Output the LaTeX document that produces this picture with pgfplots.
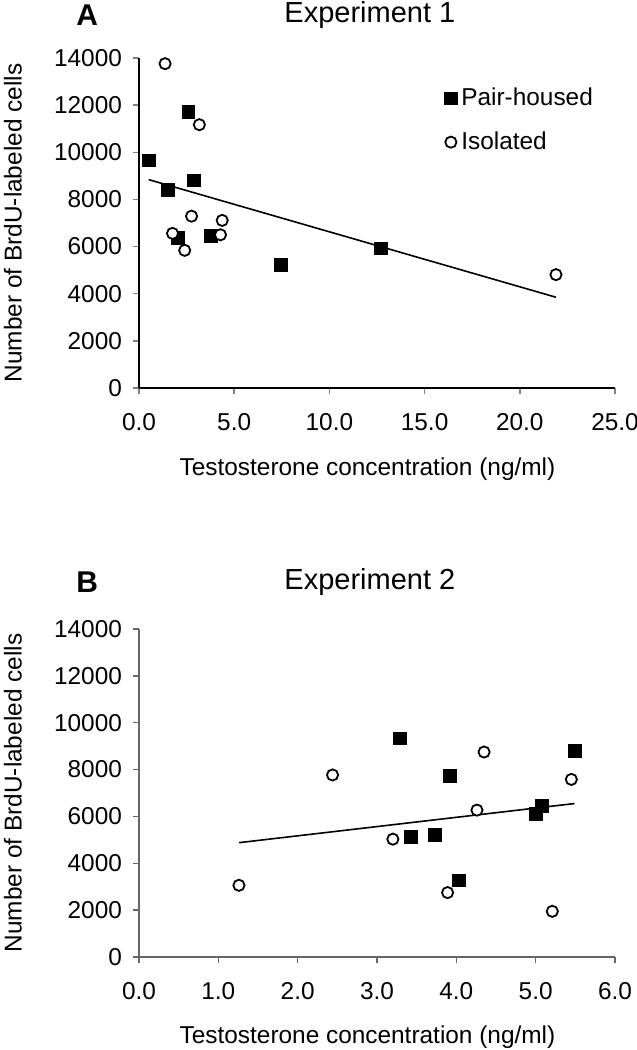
\documentclass[border=0pt]{standalone}
\usepackage{fontspec}
\setmainfont{Liberation Sans}
\usepackage{pgfplots}
\pgfplotsset{compat=1.18}

% shared look of both panels
\pgfplotsset{
  panel/.style={
    scale only axis, width=238pt, height=165pt,
    clip=false,
    axis lines*=left,
    axis line style={line width=0.7pt},
    tick align=outside, major tick length=3pt,
    tick style={line width=0.7pt},
    ymin=0, ymax=14000, ytick={0,2000,...,14000},
    scaled y ticks=false,
    /pgf/number format/assume math mode=true,
    yticklabel style={xshift=-2pt, /pgf/number format/1000 sep={}},
    xticklabel style={yshift=-6pt, /pgf/number format/.cd, fixed, fixed zerofill, precision=1},
    ylabel={Number of BrdU-labeled cells},
    xlabel={Testosterone concentration (ng/ml)},
    ylabel style={at={(axis description cs:-0.265,0.5)}, anchor=center},
    xlabel style={at={(axis description cs:0.48,-0.245)}, anchor=center},
  },
  pair/.style={only marks, mark=square*, mark size=3.2pt, mark options={fill=black, draw=black}},
  iso/.style={only marks, mark=*, mark size=2.8pt, mark options={fill=white, draw=black, line width=0.9pt}},
  fit/.style={black, line width=0.8pt, no marks, forget plot},
}
\tikzset{
  ttl/.style={font=\fontsize{14.5}{17}\selectfont},
  panelletter/.style={font=\bfseries\fontsize{15}{17}\selectfont},
}

\begin{document}
\begin{tikzpicture}[font=\fontsize{12.2}{14.6}\selectfont]
\useasboundingbox (-69.5pt,-331pt) rectangle (249pt,194pt);

% Experiment 1
\begin{axis}[
    panel,
    xmin=0, xmax=25, xtick={0,5,...,25},
    legend style={at={(axis description cs:0.641,0.922)}, anchor=north west,
        draw=none, fill=none, inner sep=0pt, row sep=7.5pt,
        nodes={inner sep=2pt}},
    legend cell align=left,
    legend image code/.code={\draw[mark repeat=2,mark phase=2,#1]
        plot coordinates {(0cm,0cm) (0.12cm,0cm) (0.24cm,0cm)};},
]
\addplot[fit] coordinates {(0.51,8840) (21.9,3850)};
\addplot[pair] coordinates {
    (0.51,9660) (1.50,8400) (2.59,11700) (2.87,8810)
    (2.06,6360) (3.79,6460) (7.47,5220) (12.70,5920)
};
\addplot[iso] coordinates {
    (1.37,13760) (3.17,11170) (2.76,7290) (1.76,6560)
    (2.40,5840) (4.37,7110) (4.28,6500) (21.9,4810)
};
\legend{Pair-housed, Isolated}
\node[ttl] at (axis description cs:0.485,1.13) {Experiment 1};
\node[panelletter] at (axis description cs:-0.109,1.13) {A};
\end{axis}

% Experiment 2
\begin{axis}[
    panel, at={(0pt,-284.5pt)}, height=164pt,
    axis line style={black!60}, tick style={black!60},
    xmin=0, xmax=6, xtick={0,1,...,6},
]
\addplot[fit] coordinates {(1.26,4880) (5.49,6550)};
\addplot[pair] coordinates {
    (3.29,9330) (3.92,7730) (5.49,8800) (3.43,5140)
    (3.73,5200) (4.03,3270) (5.00,6110) (5.08,6440)
};
\addplot[iso] coordinates {
    (1.26,3060) (2.44,7770) (3.20,5030) (3.89,2750)
    (4.26,6270) (4.35,8750) (5.21,1950) (5.45,7580)
};
\node[ttl] at (axis description cs:0.485,1.144) {Experiment 2};
\node[panelletter] at (axis description cs:-0.109,1.144) {B};
\end{axis}
\end{tikzpicture}
\end{document}
